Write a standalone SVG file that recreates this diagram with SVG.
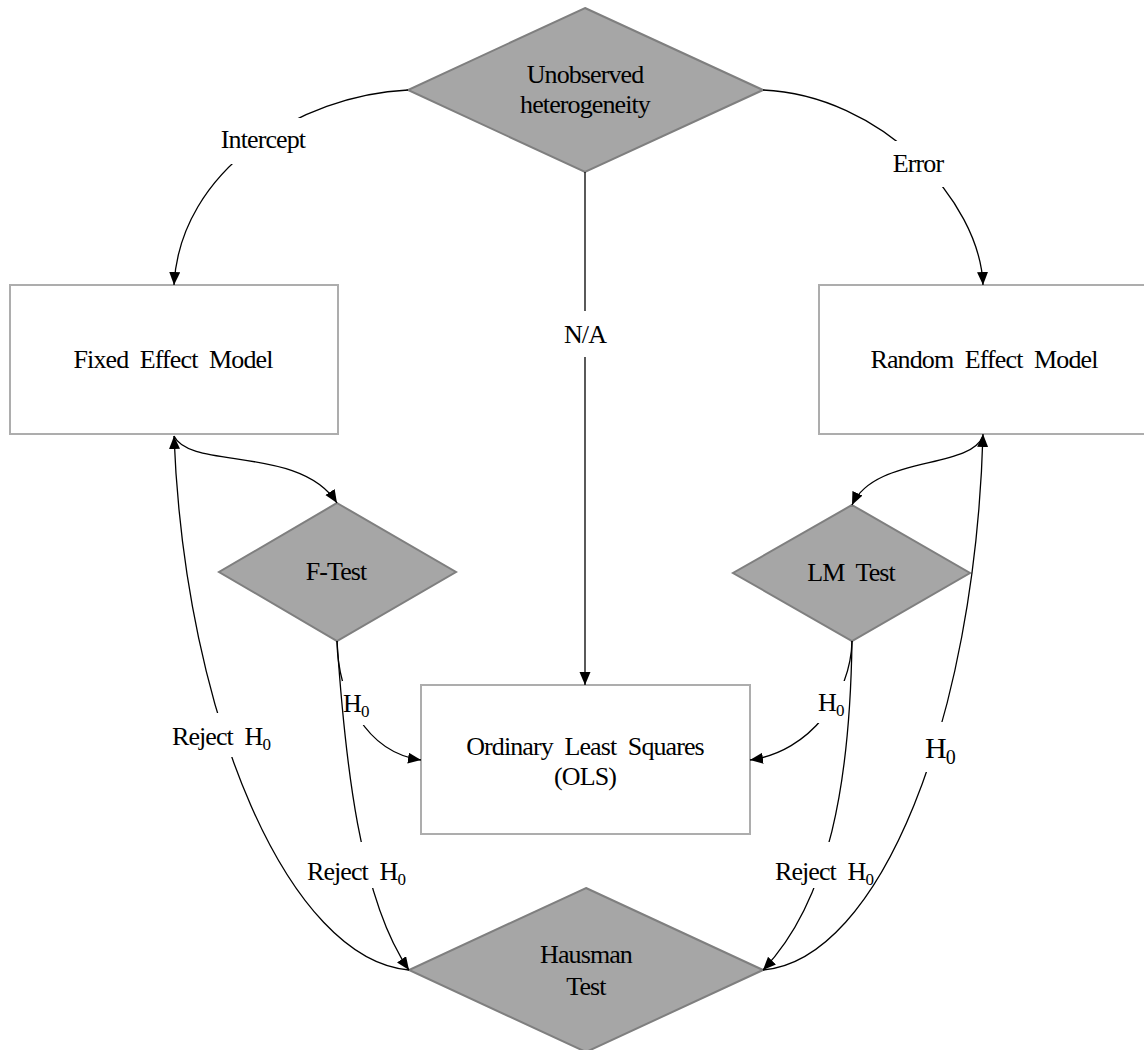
<svg xmlns="http://www.w3.org/2000/svg" width="1144" height="1050" viewBox="0 0 1144 1050">
<defs>
<marker id="arr" markerUnits="userSpaceOnUse" markerWidth="15" markerHeight="13" refX="13" refY="5.5" orient="auto">
<path d="M0,0 L13,5.5 L0,11 z" fill="#000"/>
</marker>
<style>
.box{fill:#fff;stroke:#adadad;stroke-width:2}
.dia{fill:#a6a6a6;stroke:#7f7f7f;stroke-width:2}
.t{font-family:"Liberation Serif","Times New Roman",serif;font-size:26px;letter-spacing:-0.9px;fill:#000;text-anchor:middle;word-spacing:6px}
.ts{text-anchor:start}
.e{fill:none;stroke:#000;stroke-width:1.3;marker-end:url(#arr)}
.bg{fill:#fff}
</style>
</defs>
<rect width="1144" height="1050" fill="#fff"/>
<g id="nodes">
<g id="unobserved">
<polygon class="dia" points="585,8 763,90 585,172 408,90"/>
<text class="t" x="585" y="83">Unobserved</text>
<text class="t" x="585" y="113">heterogeneity</text>
</g>
<g id="fixed">
<rect class="box" x="10" y="285" width="328" height="149"/>
<text class="t" x="173" y="368">Fixed Effect Model</text>
</g>
<g id="random">
<rect class="box" x="819" y="285" width="328" height="149"/>
<text class="t" x="984" y="368">Random Effect Model</text>
</g>
<g id="ftest">
<polygon class="dia" points="337,503 456,572 337,641 219,572"/>
<text class="t" x="336" y="580">F-Test</text>
</g>
<g id="lmtest">
<polygon class="dia" points="852,505 970,573 852,641 733,573"/>
<text class="t" x="851" y="581">LM Test</text>
</g>
<g id="ols">
<rect class="box" x="421" y="685" width="329" height="149"/>
<text class="t" x="585" y="755">Ordinary Least Squares</text>
<text class="t" x="585" y="785">(OLS)</text>
</g>
<g id="hausman">
<polygon class="dia" points="586,888 763,970 586,1052 409,970"/>
<text class="t" x="586" y="963">Hausman</text>
<text class="t" x="586" y="995">Test</text>
</g>
</g>
<g id="connectors">
<path class="e" d="M408,90 C300,95 180,170 174,285"/>
<rect class="bg" x="216" y="118" width="94" height="46"/>
<text class="t" x="263" y="148">Intercept</text>

<path class="e" d="M763,90 C880,95 980,200 983,285"/>
<rect class="bg" x="888" y="141" width="60" height="46"/>
<text class="t" x="918" y="172">Error</text>

<path class="e" d="M585,172 L585,685"/>
<rect class="bg" x="560" y="311" width="50" height="46"/>
<text class="t" x="585" y="343">N/A</text>

<path class="e" d="M174,436 C190,470 300,445 337,503"/>
<path class="e" d="M983,436 C970,470 875,455 852,505"/>

<path class="e" d="M337,641 C338,695 365,752 421,760"/>
<rect class="bg" x="342" y="681" width="30" height="44"/>
<text class="t ts" x="343" y="712">H<tspan font-size="17" dy="5">0</tspan></text>

<path class="e" d="M852,641 C851,695 810,752 750,760"/>
<rect class="bg" x="814" y="681" width="33" height="42"/>
<text class="t ts" x="818" y="711">H<tspan font-size="17" dy="5">0</tspan></text>

<path class="e" d="M337,641 C345,760 360,900 409,970"/>
<rect class="bg" x="303" y="842" width="106" height="46"/>
<text class="t" x="356" y="880">Reject H<tspan font-size="17" dy="5">0</tspan></text>

<path class="e" d="M852,641 C850,780 830,900 763,970"/>
<rect class="bg" x="772" y="842" width="104" height="46"/>
<text class="t" x="824" y="880">Reject H<tspan font-size="17" dy="5">0</tspan></text>

<path class="e" d="M409,970 C290,960 185,720 174,436"/>
<rect class="bg" x="168" y="713" width="106" height="44"/>
<text class="t" x="221" y="745">Reject H<tspan font-size="17" dy="5">0</tspan></text>

<path class="e" d="M763,970 C880,960 975,720 983,434"/>
<rect class="bg" x="920" y="722" width="40" height="50"/>
<text class="t" x="940" y="758" style="font-size:30px">H<tspan font-size="20" dy="6">0</tspan></text>
</g>
</svg>
